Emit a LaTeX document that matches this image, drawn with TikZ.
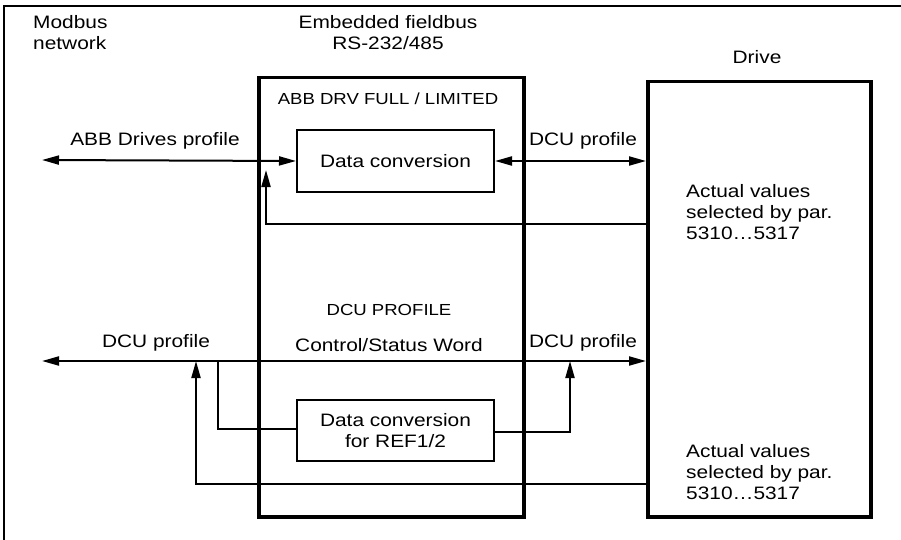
\documentclass[tikz,border=0pt]{standalone}
\usepackage{fontspec}
\setmainfont{Liberation Sans}[FakeStretch=1.16]
\usetikzlibrary{arrows.meta}

\begin{document}
\begin{tikzpicture}[x=1pt,y=-1pt]
    \tikzstyle{bigbox}=[draw,line width=3.5pt,anchor=north west,inner sep=0pt]
    \tikzstyle{smallbox}=[draw,line width=2pt,anchor=north west,inner sep=0pt,align=center,
        font=\fontsize{18}{21}\selectfont]
    \tikzstyle{txt}=[inner sep=0pt,font=\fontsize{18}{21}\selectfont]
    \tikzstyle{caps}=[inner sep=0pt,font=\fontsize{16}{18}\selectfont]
    \tikzstyle{link}=[line width=2pt,>={Triangle[length=17pt,width=9pt]}]
    \useasboundingbox (0,0) rectangle (901,540);
    % Frame
    \draw[line width=2pt] (4,540) -- (4,6) -- (901,6);
    % Boxes
    \node[bigbox,minimum width=265pt,minimum height=439pt] (emb) at (257,76) {};
    \node[bigbox,minimum width=223pt,minimum height=435pt] (drive) at (646,80) {};
    \node[smallbox,minimum width=197pt,minimum height=62pt] (conv) at (296,129) {Data conversion};
    \node[smallbox,minimum width=197pt,minimum height=61pt] (ref) at (296,399) {Data conversion\\for REF1/2};
    % Labels
    \node[txt,align=left,anchor=west] (modbus) at (33,33) {Modbus\\network};
    \node[txt,align=center] (fieldbus) at (388,33) {Embedded fieldbus\\RS-232/485};
    \node[txt] (drivelbl) at (757,57) {Drive};
    \node[caps] (abbdrv) at (388,99) {ABB DRV FULL / LIMITED};
    \node[txt] (abblbl) at (155,141) {ABB Drives profile};
    \node[txt] (dcutop) at (583,141) {DCU profile};
    \node[txt,align=left,anchor=north west] (acttop) at (686,184) {Actual values\\selected by par.\\5310…5317};
    \node[caps] (dcuprof) at (389,310) {DCU PROFILE};
    \node[txt] (csw) at (389,345) {Control/Status Word};
    \node[txt] (dculeft) at (156,343) {DCU profile};
    \node[txt] (dcuright) at (583,343) {DCU profile};
    \node[txt,align=left,anchor=north west] (actbot) at (686,444) {Actual values\\selected by par.\\5310…5317};
    % Connectors
    \coordinate (netA) at (42,160);
    \coordinate (netB) at (42,361);
    \draw[link,<->] (netA) -- (conv.west);
    \draw[link,<->] (conv.east) -- (drive.west |- conv.east);
    \draw[link,->] (drive.west |- 0,224) -- (266,224) -- (266,170);
    \draw[link,<->] (netB) -- (drive.west |- netB);
    \draw[link] (218,361) -- (218,429) -- (ref.west |- 0,429);
    \draw[link,->] (ref.east |- 0,432) -- (570,432) -- (570,361);
    \draw[link,->] (drive.west |- 0,484) -- (196,484) -- (196,361);
\end{tikzpicture}
\end{document}
